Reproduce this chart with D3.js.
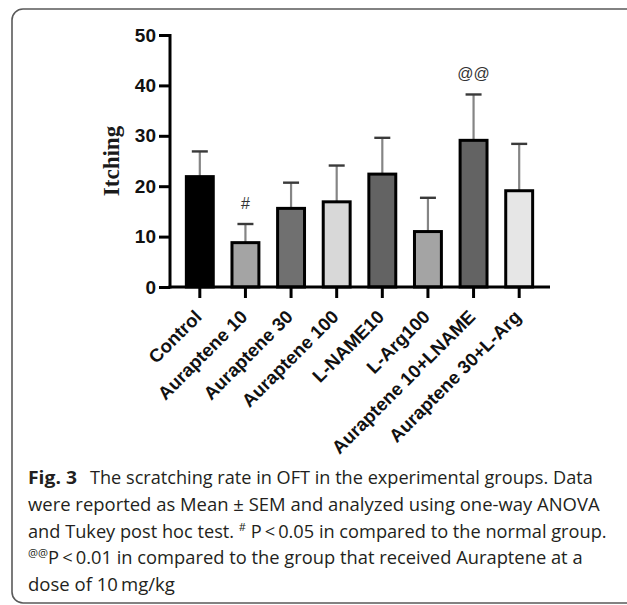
<!DOCTYPE html>
<html>
<head>
<meta charset="utf-8">
<script src="https://cdn.jsdelivr.net/npm/d3@7"></script>
<style>
  body { margin: 0; background: #fff; }
  svg { display: block; }
</style>
</head>
<body>
<svg id="chart"></svg>
<script>
// data
const groups = ['Control', 'Auraptene 10', 'Auraptene 30', 'Auraptene 100', 'L-NAME10', 'L-Arg100', 'Auraptene 10+LNAME', 'Auraptene 30+L-Arg'];
const means = [21.9, 8.8, 15.6, 16.9, 22.4, 11.0, 29.1, 19.1];
const sems = [5.0, 3.7, 5.1, 7.2, 7.2, 6.7, 9.1, 9.3];
const yTicks = [0, 10, 20, 30, 40, 50];
const marks = [['Auraptene 10', '#'], ['Auraptene 10+LNAME', '@@']];

const fills = ['#000000', '#a4a4a4', '#707070', '#d8d8d8', '#636363', '#a4a4a4', '#636363', '#e6e6e6'];

const width = 627, height = 605;
const svg = d3.select('#chart').attr('width', width).attr('height', height);

// frame round the figure
svg.append('rect')
  .attr('x', 12).attr('y', 9).attr('width', 640).attr('height', 594)
  .attr('rx', 11)
  .style('fill', 'none').style('stroke', '#5a5a5a').style('stroke-width', 1.6);

const data = groups.map((g, i) => ({ group: g, mean: means[i], sem: sems[i] }));

const x = d3.scaleBand().domain(groups).range([177, 542]).paddingInner(0.41).paddingOuter(0.205);
const y = d3.scaleLinear().domain([0, 50]).range([287, 35]);
const color = d3.scaleOrdinal().domain(groups).range(fills);

const g = svg.append('g');

// error bars (upper only)
const eb = g.selectAll('.err').data(data).enter().append('g').attr('class', 'err');
eb.append('line')
  .attr('x1', d => x(d.group) + x.bandwidth() / 2)
  .attr('x2', d => x(d.group) + x.bandwidth() / 2)
  .attr('y1', d => y(d.mean))
  .attr('y2', d => y(d.mean + d.sem))
  .style('stroke', '#858585').style('stroke-width', 2.2);
eb.append('line')
  .attr('x1', d => x(d.group) + x.bandwidth() / 2 - 8)
  .attr('x2', d => x(d.group) + x.bandwidth() / 2 + 8)
  .attr('y1', d => y(d.mean + d.sem))
  .attr('y2', d => y(d.mean + d.sem))
  .style('stroke', '#3a3a3a').style('stroke-width', 2.4);

// bars
g.selectAll('.bar').data(data).enter().append('rect')
  .attr('class', 'bar')
  .attr('x', d => x(d.group))
  .attr('width', x.bandwidth())
  .attr('y', d => y(d.mean))
  .attr('height', d => y(0) - y(d.mean))
  .style('fill', d => color(d.group))
  .style('stroke', '#000').style('stroke-width', 3);

// y axis
const yAxis = g.append('g')
  .attr('transform', 'translate(170,0)')
  .call(d3.axisLeft(y).tickValues(yTicks).tickSize(11).tickPadding(3).tickSizeOuter(0));
yAxis.select('.domain').style('stroke', '#000').style('stroke-width', 3).attr('d', 'M0,' + (y(0) + 1.5) + 'V' + (y(50) - 1));
yAxis.selectAll('.tick line').style('stroke', '#000').style('stroke-width', 3);
yAxis.selectAll('.tick text')
  .style('font-family', '"Liberation Sans", Arial, sans-serif')
  .style('font-weight', 'bold').style('font-size', '19px').style('fill', '#111');

// x axis
const xAxis = g.append('g')
  .attr('transform', 'translate(0,' + y(0) + ')')
  .call(d3.axisBottom(x).tickSize(11).tickSizeOuter(0));
xAxis.select('.domain').style('stroke', '#000').style('stroke-width', 3).attr('d', 'M168.5,0H550');
xAxis.selectAll('.tick line').style('stroke', '#000').style('stroke-width', 3);
xAxis.selectAll('.tick text')
  .attr('text-anchor', 'end')
  .attr('x', 0).attr('y', 0).attr('dy', 0)
  .attr('transform', 'translate(3,31) rotate(-45)')
  .style('font-family', '"Liberation Sans", Arial, sans-serif')
  .style('font-weight', 'bold').style('font-size', '18.5px').style('fill', '#111');

// y label
svg.append('text')
  .attr('transform', 'translate(119,161) rotate(-90)')
  .attr('text-anchor', 'middle')
  .style('font-family', '"Liberation Serif", "Times New Roman", serif')
  .style('font-weight', 'bold').style('font-size', '23px').style('fill', '#1a1a1a')
  .text('Itching');

// significance marks
marks.forEach(([grp, sym]) => {
  const d = data.find(v => v.group === grp);
  svg.append('text')
    .attr('x', x(grp) + x.bandwidth() / 2)
    .attr('y', y(d.mean + d.sem) - 15)
    .attr('text-anchor', 'middle')
    .style('font-family', '"Liberation Sans", Arial, sans-serif')
    .style('font-size', '16px').style('fill', '#333')
    .text(sym);
});

// caption: each piece is squeezed sideways to the span it takes in print
const capFont = '"Open Sans", "Noto Sans", sans-serif';
const capPieces = [
  { y: 484, x0: 28, x1: 77, bold: true, parts: [['Fig. 3']] },
  { y: 484, x0: 90, x1: 593, parts: [['The scratching rate in OFT in the experimental groups. Data']] },
  { y: 511, x0: 28, x1: 600, parts: [['were reported as Mean \u00b1 SEM and analyzed using one-way ANOVA']] },
  { y: 538, x0: 28, x1: 607, parts: [['and Tukey post hoc test. '], ['#', true], [' P\u2009<\u20090.05 in compared to the normal group.']] },
  { y: 564, x0: 28, x1: 583, parts: [['@@', true], ['P\u2009<\u20090.01 in compared to the group that received Auraptene at a']] },
  { y: 591, x0: 28, x1: 175, parts: [['dose of 10\u2009mg/kg']] }
];
capPieces.forEach(l => {
  const t = svg.append('text')
    .style('font-family', capFont).style('font-size', '18px').style('fill', '#231f20');
  if (l.bold) t.style('font-weight', 'bold');
  l.parts.forEach((p, i) => {
    const s = t.append('tspan').text(p[0]);
    if (p[1]) s.style('font-size', '11px').attr('dy', -7);
    else if (i > 0 && l.parts[i - 1][1]) s.attr('dy', 7);
  });
  const w = t.node().getComputedTextLength();
  t.attr('transform', 'translate(' + l.x0 + ',' + l.y + ') scale(' + ((l.x1 - l.x0) / w) + ',1)');
});
</script>
</body>
</html>
